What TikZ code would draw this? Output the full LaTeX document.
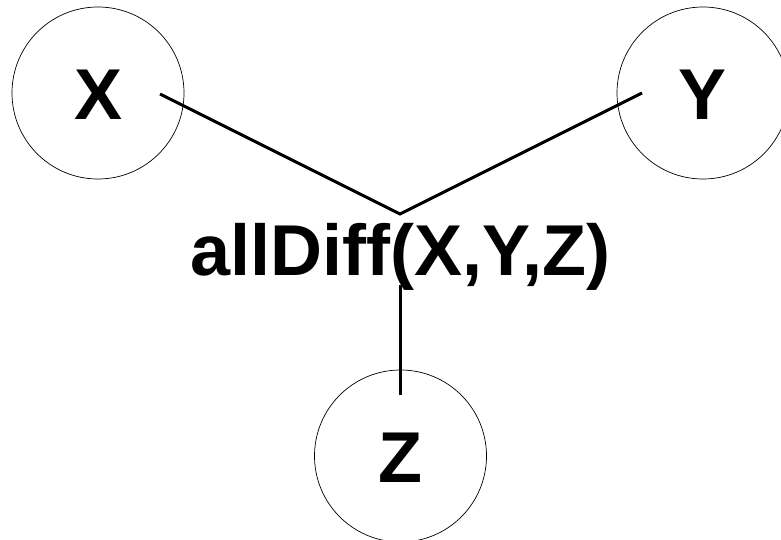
\documentclass[tikz,border=0pt]{standalone}
\usepackage{fontspec}
\setmainfont{Liberation Sans}
\begin{document}
\begin{tikzpicture}[x=1pt,y=-1pt,
  var/.style={circle,draw,line width=0.7pt,minimum size=172pt,inner sep=0pt,font=\fontsize{72}{80}\selectfont\bfseries},
  link/.style={line width=3pt},
  lbl/.style={font=\fontsize{72}{80}\selectfont\bfseries,inner sep=0pt}]
\useasboundingbox (0,0) rectangle (781,540);
\node[var] (X) at (98,93) {};
\node[lbl] (xl) at (98.5,95) {X};
\node[var] (Y) at (703,93) {};
\node[lbl] (yl) at (703,95) {Y};
\node[var] (Z) at (400.5,456) {};
\node[lbl] (zl) at (400.5,458) {Z};
\node[lbl,anchor=base] (c) at (400.5,275) {allDiff(X,Y,Z)};
\coordinate (j) at (400,214);
\coordinate (xe) at (160,94);
\coordinate (ye) at (642,93);
\coordinate (zt) at (400,285);
\coordinate (zb) at (400,395);
\draw[link] (xe) -- (j) -- (ye);
\draw[link] (zt) -- (zb);
\end{tikzpicture}
\end{document}
